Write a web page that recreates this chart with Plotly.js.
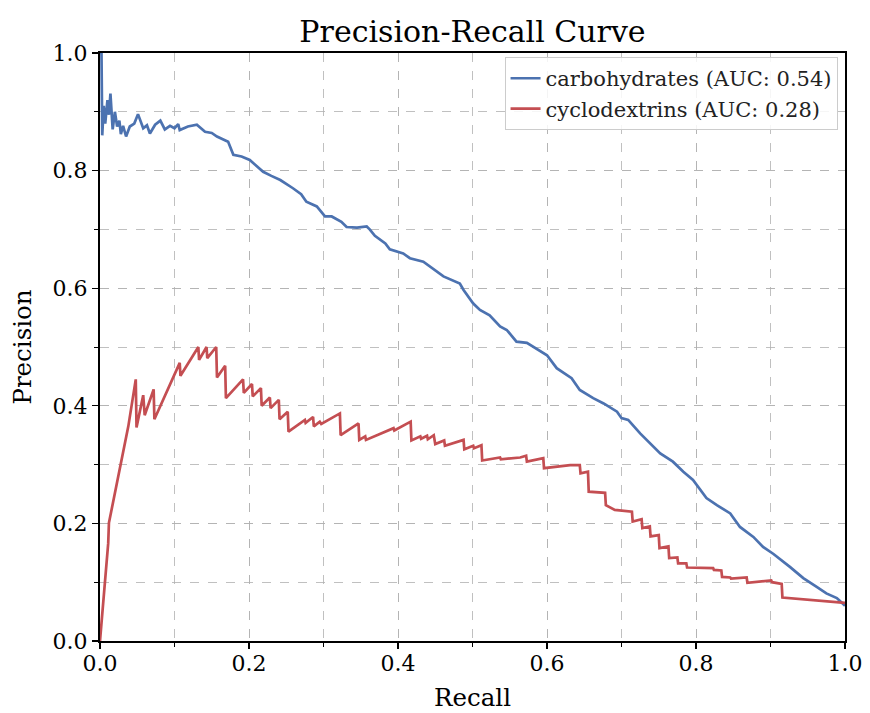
<!DOCTYPE html>
<html>
<head>
<meta charset="utf-8">
<script src="https://cdn.plot.ly/plotly-3.0.1.min.js"></script>
<style>html,body{margin:0;padding:0;background:#fff;}#chart{width:870px;height:713px;}</style>
</head>
<body>
<div id="chart"></div>
<script>
const carbRecall = [0.000,0.002,0.003,0.005,0.007,0.010,0.012,0.014,0.017,0.020,0.023,0.026,0.028,0.031,0.035,0.040,0.046,0.051,0.058,0.063,0.067,0.074,0.081,0.087,0.094,0.100,0.105,0.107,0.118,0.130,0.141,0.150,0.157,0.172,0.179,0.190,0.201,0.210,0.219,0.230,0.242,0.259,0.270,0.277,0.291,0.302,0.311,0.324,0.331,0.345,0.358,0.362,0.369,0.383,0.389,0.407,0.416,0.434,0.452,0.461,0.483,0.488,0.501,0.510,0.523,0.537,0.546,0.559,0.573,0.600,0.613,0.633,0.644,0.662,0.676,0.694,0.700,0.709,0.725,0.743,0.752,0.769,0.783,0.796,0.814,0.828,0.846,0.859,0.877,0.890,0.904,0.926,0.944,0.962,0.975,0.989,1.000];
const carbPrecision = [1.000,1.000,0.860,0.910,0.880,0.920,0.895,0.931,0.870,0.900,0.875,0.885,0.862,0.876,0.858,0.875,0.880,0.896,0.872,0.877,0.863,0.878,0.885,0.870,0.876,0.872,0.879,0.869,0.875,0.878,0.866,0.864,0.858,0.849,0.827,0.824,0.818,0.808,0.798,0.791,0.784,0.770,0.760,0.747,0.739,0.722,0.722,0.713,0.704,0.703,0.705,0.700,0.689,0.676,0.666,0.659,0.651,0.645,0.628,0.620,0.608,0.597,0.574,0.563,0.554,0.535,0.529,0.509,0.507,0.486,0.464,0.447,0.427,0.413,0.404,0.390,0.379,0.376,0.353,0.331,0.319,0.305,0.288,0.274,0.243,0.231,0.217,0.194,0.177,0.160,0.148,0.126,0.107,0.092,0.081,0.073,0.060];

const cycloRecall = [0.000,0.011,0.012,0.027,0.038,0.048,0.049,0.058,0.060,0.072,0.073,0.107,0.108,0.132,0.133,0.143,0.144,0.156,0.157,0.168,0.169,0.192,0.193,0.204,0.205,0.216,0.217,0.228,0.229,0.240,0.241,0.252,0.253,0.275,0.276,0.286,0.287,0.295,0.297,0.322,0.323,0.347,0.348,0.356,0.357,0.394,0.395,0.417,0.418,0.430,0.431,0.439,0.440,0.448,0.450,0.462,0.463,0.488,0.489,0.501,0.502,0.512,0.513,0.537,0.538,0.564,0.572,0.573,0.595,0.596,0.631,0.644,0.645,0.655,0.656,0.678,0.679,0.691,0.714,0.715,0.727,0.728,0.738,0.739,0.750,0.751,0.763,0.764,0.775,0.776,0.787,0.788,0.823,0.824,0.834,0.835,0.846,0.847,0.868,0.869,0.901,0.902,0.915,0.916,0.957,1.000];
const cycloPrecision = [0.000,0.166,0.201,0.297,0.365,0.445,0.363,0.418,0.384,0.428,0.377,0.473,0.451,0.500,0.478,0.500,0.481,0.500,0.448,0.468,0.413,0.445,0.422,0.437,0.416,0.430,0.400,0.414,0.396,0.410,0.377,0.390,0.356,0.376,0.371,0.381,0.365,0.373,0.369,0.387,0.350,0.370,0.342,0.348,0.342,0.362,0.358,0.373,0.341,0.348,0.344,0.349,0.343,0.350,0.335,0.341,0.332,0.342,0.326,0.332,0.328,0.333,0.307,0.312,0.309,0.312,0.315,0.305,0.311,0.294,0.299,0.299,0.285,0.288,0.254,0.252,0.231,0.223,0.220,0.203,0.207,0.192,0.195,0.178,0.180,0.158,0.161,0.141,0.142,0.132,0.132,0.125,0.124,0.121,0.120,0.109,0.108,0.106,0.108,0.099,0.103,0.100,0.097,0.074,0.070,0.065];

const seriesNames = ['carbohydrates (AUC: 0.54)', 'cyclodextrins (AUC: 0.28)'];
const xTicks = [0, 0.2, 0.4, 0.6, 0.8, 1.0];
const xTickText = ['0.0','0.2','0.4','0.6','0.8','1.0'];

const font = 'DejaVu Serif, serif';
const traces = [
  {x: carbRecall, y: carbPrecision, mode: 'lines', name: seriesNames[0], line: {color: '#4c72b0', width: 2.7}},
  {x: cycloRecall, y: cycloPrecision, mode: 'lines', name: seriesNames[1], line: {color: '#c44e52', width: 2.7}}
];
const axisCommon = {
  range: [0, 1], tickvals: xTicks, ticktext: xTickText,
  showline: true, linecolor: '#000', linewidth: 2.2, mirror: true,
  ticks: 'outside', ticklen: 6, tickwidth: 1.4, tickcolor: '#000',
  showgrid: true, gridcolor: '#b0b0b0', griddash: 'dash', gridwidth: 0.8,
  zeroline: false, tickfont: {family: font, size: 22, color: '#000'},
  minor: {dtick: 0.1, tick0: 0, ticks: 'outside', ticklen: 3.5, tickcolor: '#000', tickwidth: 1, showgrid: true, gridcolor: '#b0b0b0', griddash: 'dash', gridwidth: 0.8}
};
const layout = {
  width: 870, height: 713,
  margin: {l: 100, r: 25, t: 53, b: 72},
  paper_bgcolor: '#fff', plot_bgcolor: '#fff',
  title: {text: 'Precision-Recall Curve', font: {family: font, size: 30, color: '#000'}, x: 0.5, xref: 'paper', xanchor: 'center', y: 0.9565, yanchor: 'middle'},
  xaxis: Object.assign({}, axisCommon, {ticklabelstandoff: -5, title: {text: 'Recall', font: {family: font, size: 24.5, color: '#000'}, standoff: 14}}),
  yaxis: Object.assign({}, axisCommon, {title: {text: 'Precision', font: {family: font, size: 24.5, color: '#000'}, standoff: 14}}),
  legend: {x: 0.99, y: 0.993, xanchor: 'right', yanchor: 'top', bgcolor: 'rgba(255,255,255,0.85)', bordercolor: '#cccccc', borderwidth: 1, font: {family: font, size: 21, color: '#222'}, tracegroupgap: 2},
  showlegend: true
};
Plotly.newPlot('chart', traces, layout, {displayModeBar: false, staticPlot: true});
</script>
</body>
</html>
